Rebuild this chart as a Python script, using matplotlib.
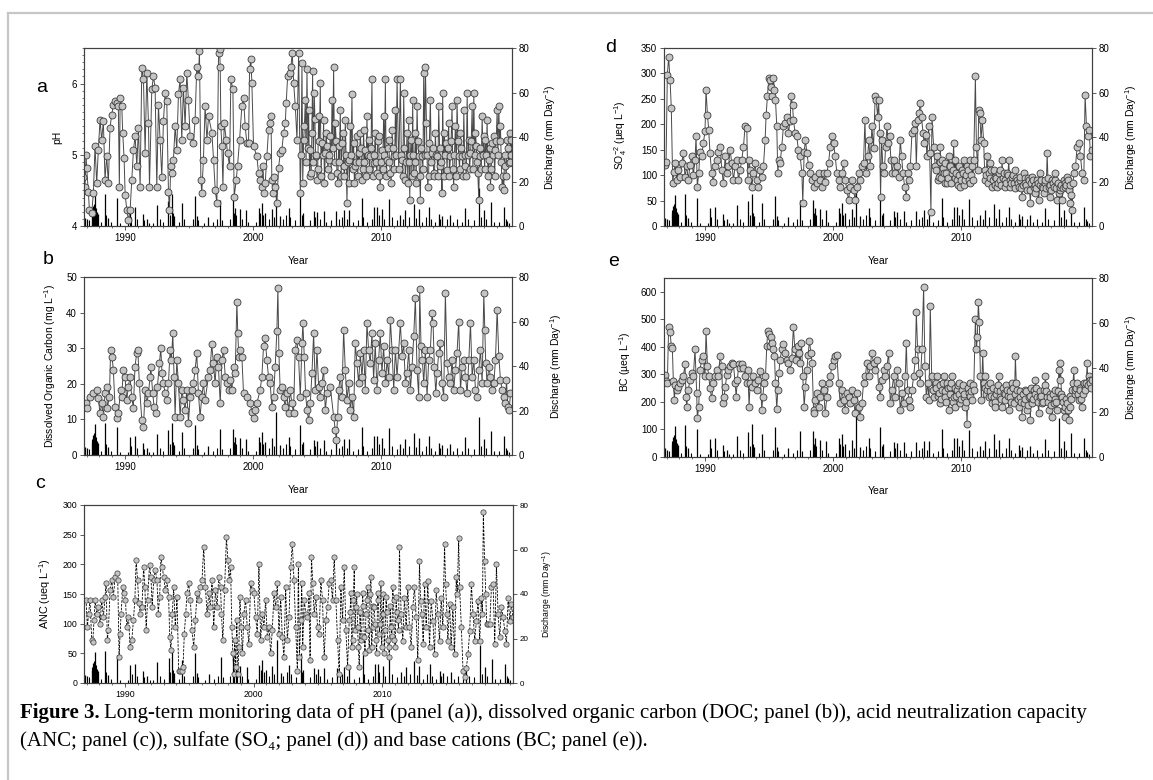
import matplotlib
matplotlib.use("Agg")
import numpy as np
import matplotlib.pyplot as plt
from matplotlib.lines import Line2D
from matplotlib.ticker import MultipleLocator

plt.rcParams["font.family"] = ["Liberation Sans", "DejaVu Sans"]
plt.rcParams["mathtext.fontset"] = "custom"
plt.rcParams["mathtext.rm"] = "Liberation Sans"
plt.rcParams["mathtext.default"] = "regular"

# ---- data (decimal year, value) ----
ph_t = [1986.75, 1986.88, 1986.96, 1987.01, 1987.14, 1987.22, 1987.40, 1987.53, 1987.66, 1987.79,
        1987.92, 1988.05, 1988.18, 1988.31, 1988.44, 1988.57, 1988.70, 1988.83, 1988.96, 1989.09,
        1989.22, 1989.35, 1989.48, 1989.56, 1989.62, 1989.75, 1989.82, 1989.93, 1990.01, 1990.14,
        1990.27, 1990.40, 1990.53, 1990.66, 1990.79, 1990.92, 1991.05, 1991.18, 1991.31, 1991.44,
        1991.57, 1991.70, 1991.83, 1991.91, 1992.09, 1992.22, 1992.35, 1992.48, 1992.61, 1992.74,
        1992.87, 1993.00, 1993.13, 1993.26, 1993.39, 1993.47, 1993.57, 1993.65, 1993.78, 1993.91,
        1994.04, 1994.17, 1994.30, 1994.43, 1994.56, 1994.69, 1994.82, 1994.95, 1995.08, 1995.34,
        1995.47, 1995.60, 1995.73, 1995.81, 1995.92, 1995.99, 1996.12, 1996.25, 1996.39, 1996.52,
        1996.78, 1996.91, 1997.04, 1997.17, 1997.30, 1997.38, 1997.43, 1997.48, 1997.56, 1997.64,
        1997.74, 1997.90, 1998.00, 1998.16, 1998.26, 1998.42, 1998.52, 1998.68, 1998.78, 1998.94,
        1999.12, 1999.25, 1999.38, 1999.51, 1999.64, 1999.72, 1999.82, 1999.90, 2000.03, 2000.29,
        2000.42, 2000.55, 2000.68, 2000.76, 2000.86, 2000.94, 2001.07, 2001.20, 2001.28, 2001.39,
        2001.46, 2001.54, 2001.65, 2001.72, 2001.85, 2001.98, 2002.11, 2002.24, 2002.38, 2002.51,
        2002.58, 2002.69, 2002.84, 2002.95, 2003.05, 2003.16, 2003.29, 2003.42, 2003.55, 2003.68,
        2003.81, 2003.94, 2004.07, 2004.20, 2004.33, 2004.46, 2004.53, 2004.64, 2004.77, 2004.87,
        2004.98, 2005.11, 2005.24, 2005.37, 2005.50, 2005.63, 2005.76, 2005.89, 2006.02, 2006.15,
        2006.28, 2006.41, 2006.54, 2006.67, 2006.80, 2006.93, 2007.06, 2007.19, 2007.32, 2007.45,
        2007.58, 2007.71, 2007.84, 2007.97, 2008.10, 2008.23, 2008.36, 2008.49, 2008.62, 2008.75,
        2008.88, 2009.01, 2009.14, 2009.27, 2009.40, 2009.53, 2009.66, 2009.79, 2009.92, 2010.05,
        2010.18, 2010.32, 2010.45, 2010.58, 2010.71, 2010.84, 2010.97, 2011.10, 2011.23, 2011.49,
        2011.62, 2011.75, 2011.88, 2012.01, 2012.14, 2012.22, 2012.32, 2012.45, 2012.53, 2012.66,
        2012.79, 2012.92, 2013.05, 2013.18, 2013.31, 2013.44, 2013.52, 2013.62, 2013.75, 2013.83,
        2013.96, 2014.09, 2014.22, 2014.35, 2014.48, 2014.61, 2014.74, 2014.79, 2014.92, 2015.06,
        2015.13, 2015.26, 2015.39, 2015.52, 2015.65, 2015.78, 2015.91, 2016.04, 2016.18, 2016.31,
        2016.44, 2016.57, 2016.70, 2016.83, 2016.96, 2017.09, 2017.22, 2017.35, 2017.42, 2017.53,
        2017.61, 2017.74, 2017.87, 2018.00, 2018.13, 2018.26, 2018.39, 2018.52, 2018.65, 2018.78,
        2018.91, 2019.04, 2019.17, 2019.30, 2019.43, 2019.56, 2019.69, 2019.82, 2019.95, 2020.08,
        2020.16]
ph_v = [4.69, 4.55, 5.00, 4.81, 4.48, 4.23, 4.18, 4.46, 5.12, 4.60,
        5.07, 5.49, 5.21, 5.47, 4.65, 4.98, 4.60, 5.38, 5.56, 5.70,
        5.75, 5.73, 5.68, 4.55, 5.80, 5.68, 5.31, 4.95, 4.44, 4.23,
        4.08, 4.23, 4.65, 5.07, 5.26, 4.84, 5.38, 4.55, 6.22, 6.06,
        5.02, 6.15, 5.45, 4.55, 5.92, 6.10, 5.94, 4.55, 5.70, 5.21,
        4.69, 5.47, 5.87, 5.75, 4.48, 4.23, 4.84, 4.74, 4.93, 5.40,
        5.07, 5.85, 6.06, 5.21, 5.94, 5.40, 6.15, 5.77, 5.26, 5.16,
        5.49, 6.24, 6.10, 6.46, 4.65, 4.46, 4.93, 5.68, 5.21, 5.54,
        5.31, 4.93, 4.51, 4.32, 6.43, 6.48, 6.24, 5.40, 5.12, 4.55,
        5.45, 5.21, 5.02, 4.84, 6.06, 5.92, 4.41, 4.65, 4.84, 5.21,
        5.68, 5.80, 5.40, 5.16, 5.16, 6.20, 6.34, 6.01, 5.12, 4.98,
        4.74, 4.65, 4.55, 4.84, 4.46, 4.60, 4.98, 5.35, 5.45, 5.54,
        4.65, 4.46, 4.69, 4.55, 4.32, 4.81, 5.02, 5.07, 5.31, 5.45,
        5.73, 6.10, 6.15, 6.24, 6.43, 6.01, 5.68, 5.21, 6.43, 4.46,
        6.29, 5.21, 5.77, 6.20, 5.63, 5.07, 4.74, 6.17, 5.87, 4.98,
        4.65, 5.54, 6.01, 5.16, 5.49, 5.02, 5.12, 4.93, 5.26, 5.77,
        6.24, 5.45, 4.74, 5.12, 5.63, 5.16, 4.84, 5.49, 4.32, 4.93,
        5.40, 5.85, 5.16, 4.84, 5.26, 5.02, 5.31, 4.65, 5.35, 5.07,
        5.54, 5.21, 4.98, 6.06, 4.88, 5.31, 4.74, 5.26, 4.55, 5.07,
        5.54, 6.06, 4.93, 5.21, 4.74, 5.35, 4.98, 5.63, 6.06, 6.06,
        4.93, 5.87, 4.65, 5.31, 5.49, 4.37, 5.21, 5.77, 4.74, 5.31,
        5.68, 4.98, 4.37, 4.98, 6.15, 6.24, 5.45, 4.55, 5.16, 5.77,
        5.02, 4.74, 5.31, 4.98, 5.68, 4.84, 4.46, 5.87, 5.31, 5.16,
        4.79, 5.45, 4.98, 5.68, 4.55, 5.40, 5.77, 4.98, 5.31, 4.98,
        5.63, 4.84, 5.87, 5.21, 5.02, 5.68, 5.87, 5.31, 5.12, 4.74,
        4.37, 4.98, 5.54, 5.26, 5.21, 5.49, 4.93, 4.55, 5.16, 5.26,
        5.07, 5.63, 5.68, 5.40, 4.55, 4.51, 4.84, 5.21, 4.88, 5.31,
        5.21]
# extra samples inside the dense 2004-2020 band
ph_t_dense = [2003.74, 2003.87, 2004.00, 2004.13, 2004.27, 2004.40, 2004.58, 2004.70, 2004.82, 2004.93,
              2005.04, 2005.17, 2005.30, 2005.44, 2005.56, 2005.70, 2005.83, 2005.95, 2006.09, 2006.21,
              2006.35, 2006.48, 2006.60, 2006.73, 2006.87, 2006.99, 2007.12, 2007.25, 2007.38, 2007.51,
              2007.64, 2007.77, 2007.90, 2008.03, 2008.16, 2008.29, 2008.42, 2008.55, 2008.68, 2008.81,
              2008.94, 2009.07, 2009.20, 2009.33, 2009.46, 2009.59, 2009.72, 2009.85, 2009.98, 2010.11,
              2010.25, 2010.38, 2010.51, 2010.64, 2010.77, 2010.90, 2011.03, 2011.16, 2011.36, 2011.56,
              2011.68, 2011.81, 2011.94, 2012.07, 2012.18, 2012.27, 2012.39, 2012.49, 2012.60, 2012.72,
              2012.85, 2012.99, 2013.11, 2013.25, 2013.38, 2013.57, 2013.69, 2013.90, 2014.02, 2014.15,
              2014.28, 2014.41, 2014.55, 2014.68, 2014.86, 2014.99, 2015.19, 2015.32, 2015.45, 2015.58,
              2015.71, 2015.85, 2015.98, 2016.11, 2016.24, 2016.37, 2016.50, 2016.63, 2016.76, 2016.89,
              2017.02, 2017.15, 2017.28, 2017.47, 2017.67, 2017.80, 2017.94, 2018.06, 2018.19, 2018.32,
              2018.45, 2018.58, 2018.71, 2018.84, 2018.97, 2019.10, 2019.23, 2019.36, 2019.49, 2019.62,
              2019.75, 2019.88, 2020.01, 2020.12]
ph_v_dense = [5.0, 4.6, 5.4, 4.9, 5.1, 4.7, 5.3, 4.9, 5.5, 5.0,
              4.8, 5.2, 4.7, 5.0, 4.6, 5.3, 4.8, 5.0, 4.7, 5.1,
              4.9, 5.2, 4.6, 4.9, 4.7, 5.3, 4.7, 5.0, 4.9, 4.6,
              5.0, 4.8, 4.6, 4.9, 4.7, 4.9, 5.1, 4.8, 4.9, 4.7,
              5.0, 4.8, 5.1, 4.7, 5.0, 4.9, 5.2, 4.7, 4.9, 4.8,
              5.0, 4.7, 5.1, 4.9, 4.6, 5.1, 4.8, 5.0, 4.8, 5.0,
              4.7, 5.1, 4.9, 4.6, 4.9, 5.0, 4.7, 5.0, 4.9, 4.6,
              5.2, 4.7, 5.1, 4.8, 5.0, 5.0, 4.7, 4.9, 5.1, 4.7,
              5.0, 4.7, 5.1, 4.9, 4.7, 5.0, 5.1, 4.7, 5.2, 4.8,
              5.0, 4.7, 5.2, 4.8, 5.1, 4.7, 5.0, 4.7, 5.0, 4.8,
              5.2, 4.8, 5.0, 4.9, 5.1, 4.8, 5.0, 4.8, 5.0, 4.7,
              5.1, 4.8, 5.0, 4.7, 5.2, 5.0, 5.2, 4.9, 4.7, 5.0,
              4.7, 5.1, 4.9, 5.0]

doc_t = [1986.96, 1987.06, 1987.27, 1987.53, 1987.79, 1987.92, 1988.05, 1988.18, 1988.31, 1988.44,
         1988.57, 1988.62, 1988.78, 1988.88, 1988.99, 1989.09, 1989.22, 1989.35, 1989.48, 1989.66,
         1989.74, 1989.87, 1990.00, 1990.13, 1990.26, 1990.39, 1990.52, 1990.65, 1990.78, 1990.91,
         1991.00, 1991.12, 1991.31, 1991.44, 1991.57, 1991.70, 1991.83, 1991.96, 1992.01, 1992.16,
         1992.27, 1992.43, 1992.53, 1992.69, 1992.79, 1992.89, 1993.00, 1993.13, 1993.26, 1993.39,
         1993.52, 1993.62, 1993.73, 1993.83, 1993.91, 1994.04, 1994.17, 1994.30, 1994.43, 1994.56,
         1994.69, 1994.82, 1994.95, 1995.08, 1995.21, 1995.34, 1995.47, 1995.60, 1995.73, 1995.86,
         1995.99, 1996.12, 1996.25, 1996.51, 1996.64, 1996.77, 1996.90, 1997.03, 1997.16, 1997.29,
         1997.43, 1997.56, 1997.69, 1997.82, 1997.95, 1998.08, 1998.21, 1998.34, 1998.47, 1998.60,
         1998.73, 1998.80, 1998.88, 1998.99, 1999.12, 1999.25, 1999.51, 1999.77, 1999.90, 2000.03,
         2000.16, 2000.29, 2000.55, 2000.68, 2000.81, 2000.94, 2001.07, 2001.20, 2001.33, 2001.46,
         2001.59, 2001.72, 2001.85, 2001.93, 2002.01, 2002.11, 2002.24, 2002.37, 2002.50, 2002.63,
         2002.76, 2002.89, 2003.02, 2003.15, 2003.28, 2003.41, 2003.54, 2003.68, 2003.81, 2003.88,
         2003.99, 2004.09, 2004.20, 2004.33, 2004.46, 2004.59, 2004.72, 2004.85, 2004.98, 2005.11,
         2005.24, 2005.37, 2005.50, 2005.63, 2005.76, 2006.02, 2006.28, 2006.41, 2006.49, 2006.59,
         2006.67, 2006.80, 2006.93, 2007.06, 2007.19, 2007.32, 2007.45, 2007.58, 2007.71, 2007.84,
         2007.97, 2008.10, 2008.23, 2008.36, 2008.49, 2008.62, 2008.75, 2008.88, 2009.01, 2009.14,
         2009.27, 2009.40, 2009.53, 2009.66, 2009.79, 2009.92, 2010.05, 2010.18, 2010.32, 2010.45,
         2010.58, 2010.71, 2010.84, 2010.97, 2011.10, 2011.23, 2011.49, 2011.62, 2011.75, 2011.88,
         2012.01, 2012.14, 2012.27, 2012.40, 2012.53, 2012.66, 2012.79, 2012.92, 2013.00, 2013.10,
         2013.21, 2013.31, 2013.44, 2013.57, 2013.70, 2013.83, 2013.96, 2014.04, 2014.14, 2014.25,
         2014.35, 2014.48, 2014.61, 2014.74, 2014.87, 2015.00, 2015.13, 2015.26, 2015.39, 2015.52,
         2015.65, 2015.78, 2015.91, 2016.04, 2016.18, 2016.31, 2016.44, 2016.57, 2016.70, 2016.83,
         2016.96, 2017.09, 2017.22, 2017.35, 2017.48, 2017.61, 2017.74, 2017.87, 2018.00, 2018.08,
         2018.15, 2018.26, 2018.39, 2018.52, 2018.65, 2018.78, 2018.91, 2019.04, 2019.17, 2019.30,
         2019.43, 2019.56, 2019.69, 2019.77, 2019.87, 2019.98, 2020.08]
doc_v = [14.5, 13.1, 16.4, 17.3, 18.3, 15.9, 11.7, 14.5, 10.8, 17.3,
         19.2, 13.1, 16.4, 29.5, 27.6, 23.9, 13.6, 10.3, 11.7, 18.3,
         16.4, 23.9, 22.0, 15.4, 19.2, 22.0, 16.4, 13.1, 24.8, 28.6,
         29.5, 20.1, 9.8, 7.9, 18.3, 14.5, 17.3, 22.0, 24.8, 17.3,
         13.6, 11.7, 19.2, 25.8, 30.0, 23.0, 20.1, 17.3, 15.4, 20.1,
         29.5, 26.7, 34.2, 22.0, 10.8, 26.7, 20.1, 10.8, 18.3, 15.4,
         12.6, 18.3, 8.9, 16.4, 18.3, 20.1, 23.9, 28.6, 17.3, 10.8,
         16.4, 20.1, 15.4, 22.0, 23.9, 31.1, 25.8, 20.1, 27.6, 24.8,
         14.5, 26.7, 29.5, 22.0, 20.1, 18.3, 21.1, 18.3, 24.8, 23.0,
         43.1, 34.2, 27.6, 29.5, 27.6, 17.3, 16.4, 14.5, 12.2, 10.3,
         12.6, 14.5, 18.3, 22.0, 30.5, 32.8, 26.7, 22.0, 20.1, 13.6,
         16.4, 24.8, 34.7, 46.9, 28.6, 18.3, 19.2, 16.4, 13.6, 17.3,
         11.7, 18.3, 14.5, 11.7, 29.5, 32.4, 27.6, 16.4, 31.4, 37.0,
         27.6, 17.3, 12.6, 9.8, 14.5, 23.0, 34.2, 18.3, 29.5, 19.2,
         16.4, 20.1, 23.9, 12.6, 17.3, 19.2, 10.8, 7.0, 4.2, 10.8,
         18.3, 22.0, 16.4, 35.2, 23.9, 15.4, 20.1, 12.6, 16.4, 10.8,
         31.4, 25.8, 20.1, 28.6, 22.0, 29.5, 18.3, 37.0, 29.5, 25.8,
         34.2, 21.1, 31.4, 18.3, 26.7, 34.2, 23.0, 30.5, 20.1, 26.7,
         22.0, 38.0, 29.5, 18.3, 29.5, 22.0, 37.0, 27.7, 31.4, 20.1,
         23.0, 29.5, 18.3, 24.8, 33.3, 44.1, 23.9, 16.4, 46.7, 30.5,
         26.7, 20.1, 29.5, 16.4, 26.7, 29.5, 39.9, 37.0, 24.8, 17.3,
         23.0, 28.6, 31.4, 20.1, 16.4, 45.5, 25.8, 22.0, 20.1, 26.7,
         18.3, 23.9, 28.6, 37.5, 18.3, 24.8, 26.7, 22.0, 17.3, 26.7,
         37.0, 22.0, 26.7, 18.3, 16.4, 23.9, 29.5, 20.1, 45.5, 35.2,
         25.8, 20.1, 24.8, 22.0, 18.3, 20.1, 26.7, 40.8, 27.7, 21.1,
         18.3, 16.4, 14.5, 21.1, 13.6, 12.6, 17.3]

anc_t = [1986.96, 1987.06, 1987.16, 1987.27, 1987.40, 1987.48, 1987.58, 1987.66, 1987.79, 1987.92,
         1988.05, 1988.18, 1988.31, 1988.44, 1988.52, 1988.62, 1988.70, 1988.83, 1988.96, 1989.09,
         1989.22, 1989.35, 1989.43, 1989.53, 1989.61, 1989.69, 1989.82, 1989.93, 1990.03, 1990.13,
         1990.26, 1990.39, 1990.52, 1990.65, 1990.76, 1990.86, 1990.97, 1991.07, 1991.18, 1991.31,
         1991.44, 1991.54, 1991.64, 1991.75, 1991.90, 1992.01, 1992.11, 1992.22, 1992.35, 1992.48,
         1992.58, 1992.69, 1992.79, 1992.89, 1993.00, 1993.13, 1993.26, 1993.39, 1993.47, 1993.57,
         1993.68, 1993.78, 1993.91, 1994.04, 1994.17, 1994.30, 1994.43, 1994.51, 1994.61, 1994.72,
         1994.82, 1994.95, 1995.08, 1995.21, 1995.34, 1995.47, 1995.60, 1995.73, 1995.86, 1995.99,
         1996.12, 1996.25, 1996.38, 1996.51, 1996.64, 1996.77, 1996.90, 1997.03, 1997.16, 1997.29,
         1997.43, 1997.50, 1997.61, 1997.74, 1997.89, 1998.00, 1998.10, 1998.21, 1998.31, 1998.39,
         1998.47, 1998.54, 1998.62, 1998.70, 1998.78, 1998.86, 1998.94, 1999.04, 1999.14, 1999.25,
         1999.38, 1999.51, 1999.64, 1999.77, 1999.90, 2000.03, 2000.16, 2000.29, 2000.42, 2000.55,
         2000.68, 2000.81, 2000.94, 2001.07, 2001.20, 2001.33, 2001.46, 2001.59, 2001.72, 2001.85,
         2001.98, 2002.11, 2002.24, 2002.37, 2002.50, 2002.63, 2002.76, 2002.89, 2003.02, 2003.15,
         2003.28, 2003.41, 2003.49, 2003.57, 2003.68, 2003.75, 2003.83, 2003.94, 2004.07, 2004.20,
         2004.33, 2004.40, 2004.51, 2004.61, 2004.72, 2004.85, 2004.98, 2005.11, 2005.24, 2005.37,
         2005.50, 2005.63, 2005.76, 2005.89, 2006.02, 2006.15, 2006.28, 2006.41, 2006.54, 2006.67,
         2006.80, 2006.93, 2007.06, 2007.19, 2007.32, 2007.45, 2007.58, 2007.71, 2007.84, 2007.97,
         2008.10, 2008.23, 2008.36, 2008.49, 2008.62, 2008.75, 2008.88, 2009.01, 2009.14, 2009.27,
         2009.40, 2009.53, 2009.66, 2009.79, 2009.92, 2010.05, 2010.18, 2010.32, 2010.45, 2010.58,
         2010.71, 2010.84, 2010.97, 2011.10, 2011.23, 2011.36, 2011.49, 2011.62, 2011.75, 2011.88,
         2012.01, 2012.14, 2012.27, 2012.40, 2012.53, 2012.66, 2012.79, 2012.92, 2013.00, 2013.10,
         2013.21, 2013.31, 2013.44, 2013.57, 2013.70, 2013.83, 2013.96, 2014.09, 2014.22, 2014.35,
         2014.48, 2014.61, 2014.74, 2014.87, 2014.95, 2015.06, 2015.13, 2015.26, 2015.39, 2015.52,
         2015.65, 2015.78, 2015.86, 2015.97, 2016.04, 2016.18, 2016.31, 2016.44, 2016.57, 2016.70,
         2016.83, 2016.96, 2017.09, 2017.22, 2017.35, 2017.48, 2017.61, 2017.74, 2017.82, 2017.89,
         2017.99, 2018.08, 2018.15, 2018.26, 2018.39, 2018.52, 2018.65, 2018.78, 2018.91, 2019.04,
         2019.17, 2019.30, 2019.43, 2019.56, 2019.69, 2019.82, 2019.95, 2020.08, 2020.19]
anc_v = [140, 94, 117, 140, 72, 69, 106, 140, 117, 128,
         100, 140, 111, 145, 168, 72, 89, 156, 173, 145,
         179, 185, 173, 44, 83, 117, 162, 151, 140, 94,
         111, 61, 72, 106, 140, 207, 173, 134, 117, 128,
         196, 162, 89, 140, 199, 179, 128, 173, 190, 173,
         117, 145, 213, 196, 179, 156, 173, 145, 78, 55,
         117, 162, 94, 145, 21, 21, 21, 27, 83, 117,
         151, 168, 140, 89, 61, 106, 151, 140, 162, 173,
         230, 162, 117, 151, 128, 173, 94, 156, 128, 179,
         162, 117, 72, 156, 246, 207, 173, 196, 94, 50,
         16, 72, 27, 106, 16, 61, 145, 94, 50, 117,
         140, 94, 66, 168, 156, 151, 111, 83, 201, 72,
         117, 94, 140, 78, 94, 50, 89, 151, 128, 168,
         83, 145, 78, 44, 162, 72, 111, 196, 235, 173,
         94, 21, 201, 44, 106, 168, 61, 140, 117, 111,
         151, 38, 213, 168, 117, 145, 94, 83, 173, 140,
         44, 106, 128, 168, 173, 140, 213, 140, 72, 16,
         162, 106, 196, 89, 27, 106, 151, 72, 196, 128,
         94, 27, 72, 151, 78, 117, 162, 55, 179, 94,
         128, 72, 151, 83, 168, 117, 50, 145, 72, 44,
         94, 162, 72, 145, 106, 230, 116, 71, 144, 94,
         161, 94, 60, 128, 161, 111, 38, 206, 139, 116,
         66, 167, 94, 172, 60, 139, 105, 49, 156, 116,
         71, 144, 94, 234, 167, 116, 71, 133, 60, 128,
         49, 178, 150, 245, 161, 94, 21, 10, 26, 49,
         88, 167, 116, 71, 105, 139, 71, 144, 116, 288,
         206, 150, 99, 99, 99, 161, 167, 66, 200, 116,
         77, 128, 111, 88, 66, 144, 105, 133, 111]
anc_t_dense = [2007.51, 2007.64, 2007.77, 2007.90, 2008.03, 2008.16, 2008.29, 2008.42, 2008.55, 2008.68,
               2008.81, 2008.94, 2009.07, 2009.20, 2009.33, 2009.46, 2009.59, 2009.72, 2009.85, 2009.98,
               2010.11, 2010.25, 2010.38, 2010.51, 2010.64, 2010.77, 2010.90, 2011.03, 2011.16, 2011.29]
anc_v_dense = [120, 60, 140, 90, 150, 60, 120, 80, 130, 50,
               140, 90, 150, 60, 130, 100, 50, 140, 100, 60,
               150, 90, 120, 60, 130, 80, 140, 60, 120, 90]

so4_t = [1986.88, 1986.96, 1987.06, 1987.16, 1987.27, 1987.37, 1987.48, 1987.58, 1987.69, 1987.79,
         1987.92, 1988.05, 1988.18, 1988.31, 1988.44, 1988.57, 1988.70, 1988.83, 1988.96, 1989.09,
         1989.22, 1989.30, 1989.40, 1989.51, 1989.61, 1989.74, 1989.87, 1990.00, 1990.08, 1990.19,
         1990.29, 1990.39, 1990.52, 1990.65, 1990.78, 1990.91, 1991.04, 1991.18, 1991.31, 1991.44,
         1991.57, 1991.70, 1991.83, 1991.96, 1992.09, 1992.22, 1992.35, 1992.48, 1992.61, 1992.74,
         1992.87, 1993.00, 1993.13, 1993.26, 1993.34, 1993.44, 1993.52, 1993.65, 1993.78, 1993.91,
         1994.04, 1994.17, 1994.30, 1994.43, 1994.56, 1994.69, 1994.77, 1994.87, 1994.98, 1995.08,
         1995.16, 1995.24, 1995.34, 1995.42, 1995.50, 1995.60, 1995.68, 1995.76, 1995.86, 1995.99,
         1996.12, 1996.25, 1996.38, 1996.51, 1996.64, 1996.72, 1996.83, 1996.90, 1997.03, 1997.16,
         1997.29, 1997.43, 1997.56, 1997.63, 1997.74, 1997.84, 1997.95, 1998.08, 1998.21, 1998.34,
         1998.47, 1998.60, 1998.73, 1998.86, 1998.99, 1999.12, 1999.25, 1999.38, 1999.51, 1999.64,
         1999.77, 1999.90, 2000.03, 2000.16, 2000.29, 2000.42, 2000.55, 2000.68, 2000.81, 2000.94,
         2001.07, 2001.20, 2001.33, 2001.46, 2001.59, 2001.72, 2001.85, 2001.98, 2002.11, 2002.24,
         2002.37, 2002.48, 2002.58, 2002.69, 2002.79, 2002.89, 2003.02, 2003.15, 2003.28, 2003.36,
         2003.47, 2003.55, 2003.62, 2003.70, 2003.78, 2003.88, 2003.99, 2004.09, 2004.20, 2004.30,
         2004.40, 2004.51, 2004.61, 2004.72, 2004.85, 2004.98, 2005.11, 2005.24, 2005.34, 2005.45,
         2005.58, 2005.71, 2005.81, 2005.91, 2006.02, 2006.15, 2006.28, 2006.41, 2006.49, 2006.59,
         2006.70, 2006.80, 2006.90, 2007.01, 2007.11, 2007.22, 2007.32, 2007.45, 2007.53, 2007.63,
         2007.71, 2007.84, 2007.97, 2008.10, 2008.23, 2008.36, 2008.49, 2008.62, 2008.75, 2008.88,
         2009.01, 2009.14, 2009.27, 2009.40, 2009.53, 2009.66, 2009.79, 2009.92, 2010.05, 2010.18,
         2010.32, 2010.45, 2010.58, 2010.71, 2010.84, 2010.97, 2011.10, 2011.18, 2011.28, 2011.36,
         2011.44, 2011.54, 2011.64, 2011.75, 2011.88, 2012.01, 2012.14, 2012.27, 2012.40, 2012.53,
         2012.66, 2012.79, 2012.92, 2013.05, 2013.18, 2013.31, 2013.44, 2013.57, 2013.70, 2013.83,
         2013.96, 2014.09, 2014.22, 2014.35, 2014.48, 2014.61, 2014.74, 2014.87, 2015.00, 2015.13,
         2015.26, 2015.39, 2015.52, 2015.65, 2015.78, 2015.91, 2016.04, 2016.18, 2016.31, 2016.44,
         2016.57, 2016.70, 2016.83, 2016.96, 2017.09, 2017.22, 2017.35, 2017.48, 2017.61, 2017.74,
         2017.87, 2018.00, 2018.13, 2018.26, 2018.39, 2018.52, 2018.65, 2018.78, 2018.91, 2019.04,
         2019.17, 2019.30, 2019.43, 2019.56, 2019.66, 2019.77, 2019.87, 2019.98, 2020.08, 2020.19]
so4_v = [120, 125, 297, 332, 288, 232, 85, 107, 123, 91,
         110, 97, 123, 143, 97, 117, 91, 120, 137, 100,
         130, 176, 77, 104, 146, 137, 163, 186, 268, 219,
         189, 143, 104, 87, 117, 130, 146, 156, 110, 84,
         137, 104, 117, 150, 123, 91, 117, 130, 91, 110,
         130, 156, 196, 192, 91, 130, 110, 77, 104, 123,
         91, 77, 110, 97, 117, 169, 219, 255, 291, 288,
         274, 255, 291, 268, 248, 196, 104, 130, 123, 156,
         196, 202, 215, 183, 206, 255, 238, 209, 183, 176,
         150, 137, 104, 45, 146, 169, 143, 120, 104, 91,
         77, 97, 84, 104, 91, 77, 104, 87, 104, 123,
         156, 176, 163, 137, 104, 91, 77, 104, 123, 91,
         71, 51, 77, 91, 71, 51, 77, 104, 91, 117,
         123, 209, 104, 137, 169, 117, 196, 153, 255, 248,
         215, 248, 183, 58, 169, 117, 104, 156, 196, 163,
         176, 130, 104, 130, 104, 117, 97, 169, 137, 104,
         77, 58, 104, 91, 117, 183, 189, 202, 117, 209,
         222, 242, 215, 183, 163, 179, 137, 196, 143, 28,
         215, 156, 117, 137, 97, 156, 130, 104, 123, 84,
         137, 117, 104, 163, 130, 91, 117, 77, 110, 130,
         91, 117, 91, 130, 117, 130, 294, 156, 110, 228,
         222, 169, 209, 163, 91, 137, 104, 123, 77, 110,
         97, 77, 104, 91, 130, 104, 77, 104, 130, 77,
         97, 84, 110, 91, 77, 97, 58, 104, 84, 71,
         91, 45, 97, 77, 64, 91, 51, 104, 77, 64,
         91, 143, 77, 58, 91, 77, 104, 51, 64, 77,
         51, 91, 77, 97, 71, 45, 32, 104, 117, 156,
         163, 137, 104, 91, 258, 196, 176, 189, 137, 150]
so4_t_dense = [2008.04, 2008.17, 2008.30, 2008.43, 2008.56, 2008.69, 2008.82, 2008.95, 2009.08, 2009.21,
               2009.34, 2009.47, 2009.60, 2009.73, 2009.86, 2009.99, 2010.12, 2010.25, 2010.39, 2010.52,
               2010.65, 2010.78, 2010.91, 2011.82, 2011.95, 2012.08, 2012.21, 2012.34, 2012.47, 2012.60,
               2012.73, 2012.86, 2012.99, 2013.12, 2013.25, 2013.38, 2013.51, 2013.64, 2013.77, 2013.90,
               2014.03, 2014.16, 2014.29, 2014.42, 2014.55, 2014.68, 2014.81, 2014.94, 2015.07, 2015.20,
               2015.33, 2015.46, 2015.59, 2015.72, 2015.85, 2015.98, 2016.11, 2016.24, 2016.37, 2016.50,
               2016.63, 2016.76, 2016.89, 2017.02, 2017.15, 2017.28, 2017.41, 2017.55, 2017.68, 2017.81,
               2017.94, 2018.07, 2018.20, 2018.33, 2018.46, 2018.59, 2018.72]
so4_v_dense = [110, 90, 125, 95, 115, 85, 105, 95, 120, 85,
               110, 95, 105, 80, 100, 90, 105, 80, 100, 110,
               85, 100, 90, 110, 100, 85, 95, 110, 90, 80,
               95, 85, 110, 80, 95, 90, 85, 100, 90, 85,
               100, 75, 95, 85, 90, 75, 80, 95, 80, 95,
               70, 85, 90, 80, 75, 85, 80, 90, 75, 85,
               75, 95, 80, 70, 85, 90, 75, 85, 70, 80,
               75, 85, 80, 90, 80, 60, 85]

bc_t = [1986.88, 1986.96, 1987.06, 1987.16, 1987.27, 1987.37, 1987.45, 1987.53, 1987.61, 1987.69,
        1987.79, 1987.92, 1988.05, 1988.18, 1988.31, 1988.44, 1988.52, 1988.57, 1988.70, 1988.83,
        1988.96, 1989.09, 1989.22, 1989.35, 1989.40, 1989.51, 1989.61, 1989.74, 1989.87, 1990.00,
        1990.08, 1990.19, 1990.29, 1990.39, 1990.52, 1990.65, 1990.78, 1990.91, 1991.04, 1991.18,
        1991.31, 1991.38, 1991.49, 1991.59, 1991.70, 1991.83, 1991.96, 1992.09, 1992.22, 1992.35,
        1992.43, 1992.53, 1992.63, 1992.74, 1992.87, 1993.00, 1993.13, 1993.26, 1993.34, 1993.44,
        1993.52, 1993.65, 1993.78, 1993.91, 1994.04, 1994.17, 1994.30, 1994.43, 1994.51, 1994.61,
        1994.72, 1994.82, 1994.90, 1994.98, 1995.08, 1995.16, 1995.24, 1995.34, 1995.42, 1995.50,
        1995.60, 1995.68, 1995.76, 1995.86, 1995.99, 1996.12, 1996.25, 1996.38, 1996.51, 1996.64,
        1996.77, 1996.90, 1997.01, 1997.11, 1997.22, 1997.32, 1997.43, 1997.53, 1997.63, 1997.74,
        1997.84, 1997.95, 1998.05, 1998.15, 1998.26, 1998.36, 1998.47, 1998.54, 1998.62, 1998.73,
        1998.86, 1998.99, 1999.12, 1999.25, 1999.38, 1999.51, 1999.64, 1999.77, 1999.90, 2000.03,
        2000.16, 2000.29, 2000.42, 2000.55, 2000.68, 2000.81, 2000.94, 2001.07, 2001.20, 2001.33,
        2001.46, 2001.59, 2001.72, 2001.85, 2001.98, 2002.11, 2002.24, 2002.37, 2002.51, 2002.63,
        2002.76, 2002.89, 2003.02, 2003.15, 2003.28, 2003.41, 2003.55, 2003.68, 2003.81, 2003.94,
        2004.07, 2004.20, 2004.33, 2004.46, 2004.59, 2004.72, 2004.85, 2004.98, 2005.11, 2005.24,
        2005.37, 2005.50, 2005.63, 2005.71, 2005.81, 2005.91, 2006.02, 2006.15, 2006.28, 2006.41,
        2006.49, 2006.59, 2006.70, 2006.80, 2006.93, 2007.06, 2007.16, 2007.27, 2007.37, 2007.48,
        2007.58, 2007.69, 2007.79, 2007.89, 2008.00, 2008.10, 2008.23, 2008.36, 2008.49, 2008.62,
        2008.75, 2008.88, 2009.01, 2009.14, 2009.27, 2009.40, 2009.53, 2009.66, 2009.79, 2009.92,
        2010.05, 2010.18, 2010.32, 2010.45, 2010.58, 2010.71, 2010.84, 2010.97, 2011.10, 2011.18,
        2011.25, 2011.33, 2011.41, 2011.49, 2011.57, 2011.67, 2011.75, 2011.88, 2012.01, 2012.14,
        2012.27, 2012.40, 2012.53, 2012.66, 2012.79, 2012.92, 2013.05, 2013.18, 2013.31, 2013.44,
        2013.57, 2013.70, 2013.83, 2013.96, 2014.09, 2014.22, 2014.35, 2014.48, 2014.61, 2014.74,
        2014.87, 2015.00, 2015.13, 2015.26, 2015.39, 2015.52, 2015.65, 2015.78, 2015.91, 2016.04,
        2016.18, 2016.31, 2016.44, 2016.57, 2016.70, 2016.83, 2016.96, 2017.09, 2017.22, 2017.35,
        2017.48, 2017.61, 2017.74, 2017.87, 2018.00, 2018.13, 2018.26, 2018.39, 2018.52, 2018.65,
        2018.78, 2018.91, 2019.04, 2019.17, 2019.30, 2019.43, 2019.56, 2019.69, 2019.82, 2019.95,
        2020.08, 2020.19]
bc_v = [299, 275, 268, 471, 455, 403, 396, 275, 207, 262,
        244, 256, 268, 281, 293, 336, 219, 183, 244, 281,
        305, 293, 391, 232, 140, 183, 317, 354, 366, 293,
        458, 330, 293, 250, 213, 268, 293, 317, 293, 366,
        330, 195, 219, 256, 299, 317, 330, 342, 336, 268,
        219, 281, 336, 324, 336, 324, 293, 268, 317, 183,
        268, 256, 293, 268, 244, 281, 311, 170, 219, 268,
        293, 403, 458, 446, 403, 434, 415, 391, 366, 268,
        176, 244, 305, 354, 391, 409, 379, 354, 342, 317,
        360, 471, 391, 354, 403, 379, 342, 415, 293, 183,
        256, 317, 372, 422, 379, 342, 170, 158, 207, 232,
        183, 219, 268, 244, 158, 219, 268, 293, 330, 354,
        366, 372, 268, 195, 244, 207, 170, 232, 219, 195,
        244, 207, 158, 232, 183, 146, 195, 268, 293, 342,
        293, 330, 379, 342, 317, 354, 256, 219, 281, 317,
        293, 330, 379, 195, 244, 293, 219, 317, 268, 170,
        232, 195, 293, 415, 244, 207, 183, 244, 293, 354,
        526, 391, 305, 268, 391, 618, 330, 219, 268, 207,
        550, 293, 244, 219, 268, 293, 232, 195, 244, 293,
        219, 268, 170, 256, 293, 219, 183, 244, 268, 195,
        244, 219, 183, 121, 232, 268, 207, 244, 501, 391,
        434, 563, 489, 293, 207, 379, 268, 293, 244, 219,
        268, 195, 219, 183, 244, 293, 219, 183, 232, 207,
        244, 170, 219, 268, 195, 366, 244, 183, 219, 146,
        195, 244, 170, 219, 134, 195, 244, 281, 219, 158,
        219, 195, 244, 293, 219, 170, 219, 146, 195, 244,
        170, 317, 342, 219, 170, 146, 195, 134, 183, 244,
        317, 244, 268, 207, 244, 183, 268, 244, 342, 293,
        268, 281]
bc_t_dense = [2008.05, 2008.17, 2008.30, 2008.43, 2008.56, 2008.69, 2008.82, 2008.95, 2009.08, 2009.21,
              2009.34, 2009.47, 2009.60, 2009.73, 2009.86, 2009.99, 2010.12, 2010.25, 2010.39, 2010.52,
              2010.65, 2010.78, 2010.91, 2011.82, 2011.95, 2012.08, 2012.21, 2012.34, 2012.47, 2012.60,
              2012.73, 2012.86, 2012.99, 2013.12, 2013.25, 2013.38, 2013.51, 2013.64, 2013.77, 2013.90,
              2014.03, 2014.16, 2014.29, 2014.42, 2014.55, 2014.68, 2014.81, 2014.94, 2015.07, 2015.20,
              2015.33, 2015.46, 2015.59, 2015.72, 2015.85, 2015.98, 2016.11, 2016.24, 2016.37, 2016.50,
              2016.63, 2016.76, 2016.89, 2017.02, 2017.15, 2017.28, 2017.41, 2017.55, 2017.68, 2017.81,
              2017.94, 2018.07, 2018.20, 2018.33, 2018.46, 2018.59, 2018.72, 2018.85, 2018.98, 2019.11,
              2019.24, 2019.37, 2019.50, 2019.63, 2019.76, 2019.89, 2020.02, 2020.14]
bc_v_dense = [250, 220, 260, 210, 270, 240, 200, 250, 230, 270,
              200, 250, 220, 260, 230, 210, 260, 230, 200, 250,
              220, 240, 260, 250, 230, 260, 240, 220, 250, 200,
              230, 260, 240, 210, 250, 230, 260, 220, 240, 200,
              250, 230, 270, 210, 240, 200, 230, 210, 240, 190,
              220, 250, 210, 230, 250, 200, 240, 220, 200, 260,
              240, 200, 230, 190, 230, 210, 200, 240, 280, 230,
              200, 180, 210, 170, 220, 210, 270, 230, 250, 230,
              250, 210, 230, 250, 270, 260, 280, 250]

# discharge (mm/day): main storm peaks and smaller events
q_t = [1986.88, 1987.01, 1987.40, 1987.53, 1987.66, 1987.79, 1987.92, 1988.44, 1988.70, 1989.40,
       1990.39, 1990.78, 1991.38, 1991.70, 1992.48, 1993.39, 1993.65, 1993.83, 1994.43, 1995.47,
       1995.60, 1996.51, 1997.43, 1998.41, 1998.60, 1998.94, 1999.46, 2000.42, 2000.68, 2000.94,
       2001.46, 2001.80, 2002.11, 2002.76, 2003.68, 2003.88, 2004.72, 2004.98, 2005.50, 2006.49,
       2007.06, 2007.45, 2008.49, 2009.46, 2009.66, 2010.05, 2010.58, 2011.49, 2011.88, 2012.53,
       2012.92, 2013.70, 2014.48, 2014.74, 2015.39, 2016.57, 2017.61, 2018.00, 2018.57, 2019.56,
       2019.82]
q_v = [3.8, 3.0, 6.0, 9.0, 14.0, 6.3, 5.3, 14.3, 3.8, 12.5,
       8.0, 8.6, 5.3, 3.0, 9.3, 11.1, 14.6, 4.5, 10.5, 13.5,
       4.5, 4.2, 11.6, 11.7, 8.3, 7.5, 7.2, 8.3, 10.5, 6.0,
       7.5, 19.5, 4.5, 8.3, 13.5, 6.0, 6.8, 6.3, 6.8, 6.8,
       7.2, 7.2, 12.5, 8.7, 8.7, 7.5, 12.0, 4.8, 7.2, 10.1,
       7.8, 8.6, 5.3, 4.5, 4.8, 8.0, 17.3, 7.1, 10.8, 8.7,
       2.3]
q_small_t = [1987.20, 1987.45, 1987.60, 1987.72, 1987.85, 1988.10, 1988.55, 1988.90, 1989.60, 1990.20,
             1990.50, 1990.90, 1991.50, 1991.90, 1992.20, 1992.70, 1993.00, 1993.50, 1993.75, 1994.20,
             1994.60, 1995.30, 1995.70, 1996.20, 1996.90, 1997.20, 1997.60, 1998.20, 1998.50, 1998.70,
             1999.10, 1999.60, 2000.20, 2000.55, 2000.80, 2001.20, 2001.60, 2002.30, 2002.60, 2002.90,
             2003.30, 2003.80, 2004.40, 2004.85, 2005.20, 2005.70, 2006.10, 2006.70, 2006.90, 2007.30,
             2007.80, 2008.20, 2008.60, 2008.90, 2009.30, 2009.80, 2010.20, 2010.80, 2011.20, 2011.70,
             2012.20, 2012.70, 2013.20, 2013.50, 2013.90, 2014.20, 2014.60, 2015.10, 2015.60, 2015.90,
             2016.30, 2016.80, 2017.20, 2017.80, 2018.20, 2018.80, 2019.20, 2019.70, 2020.00]
q_small_v = [2.5, 7.0, 10.0, 8.0, 4.0, 2.0, 5.0, 2.0, 1.5, 1.5,
             4.0, 3.0, 2.5, 1.5, 1.5, 3.0, 2.0, 5.0, 6.0, 2.0,
             3.0, 3.0, 2.5, 1.5, 2.0, 3.0, 2.5, 3.0, 6.0, 5.0,
             3.0, 2.0, 2.0, 6.0, 5.0, 3.0, 4.0, 3.0, 5.0, 4.0,
             2.5, 5.0, 2.5, 4.0, 3.0, 2.0, 2.5, 3.0, 4.0, 3.0,
             2.0, 2.5, 4.0, 2.0, 3.0, 5.0, 3.0, 4.0, 2.5, 3.0,
             4.0, 3.5, 2.0, 4.0, 3.0, 2.0, 3.0, 3.0, 2.0, 3.0,
             2.0, 3.0, 2.5, 4.0, 3.0, 2.0, 2.0, 3.0, 1.5]

YEARS = (1986.8, 2020.2)

W, H = 1153, 780
fig = plt.figure(figsize=(W / 100, H / 100), dpi=100, facecolor="white")


def merged(t, v, t2=(), v2=()):
    # join the main and the dense-band samples in time order
    t_all = np.array(list(t) + list(t2))
    v_all = np.array(list(v) + list(v2))
    order = np.argsort(t_all)
    return t_all[order], v_all[order]


def rect(left, top, right, bottom):
    return [left / W, 1 - bottom / H, (right - left) / W, (bottom - top) / H]


def panel(box, t, v, ylim, ystep, yminor=None, small=False):
    ax = fig.add_axes(box)
    ax2 = ax.twinx()
    ax2.vlines(q_t, 0, q_v, color="black", lw=0.9)
    ax2.vlines(q_small_t, 0, q_small_v, color="black", lw=0.8)
    ax2.set_ylim(0, 80)
    ax2.yaxis.set_major_locator(MultipleLocator(20))

    ax.set_zorder(ax2.get_zorder() + 1)
    ax.patch.set_visible(False)
    if small:
        ax.plot(t, v, color="black", lw=0.6, ls=(0, (3, 1.5)), marker="o", ms=3.8,
                mfc="#c4c4c4", mec="#3a3a3a", mew=0.5)
    else:
        ax.plot(t, v, color="#4a4a4a", lw=0.7, marker="o", ms=5.0,
                mfc="#c4c4c4", mec="#3a3a3a", mew=0.6)
    ax.set_xlim(*YEARS)
    ax.set_ylim(*ylim)
    ax.yaxis.set_major_locator(MultipleLocator(ystep))
    if yminor:
        ax.yaxis.set_minor_locator(MultipleLocator(yminor))
    ax.set_xticks([1990, 2000, 2010])
    ax.xaxis.set_minor_locator(MultipleLocator(1))

    fs = 6.3 if small else 7
    for a in (ax, ax2):
        for sp in a.spines.values():
            sp.set_color("#404040")
            sp.set_linewidth(0.8)
        a.tick_params(which="major", direction="out", length=3, width=0.6,
                      colors="#404040", labelcolor="black", labelsize=fs, pad=2)
        a.tick_params(which="minor", direction="out", length=1.6, width=0.5,
                      colors="#404040")
    if small:
        ax2.tick_params(labelsize=5.8)
    return ax, ax2


def ylab(x, y, s, size=7.5):
    fig.text(x / W, 1 - y / H, s, rotation=90, ha="center", va="center", fontsize=size)


def letter(x, y, s):
    fig.text(x / W, 1 - y / H, s, ha="center", va="center", fontsize=14)


def xlab(x, y):
    fig.text(x / W, 1 - y / H, "Year", ha="center", va="center", fontsize=7.5)


Q_LABEL = "Discharge (mm Day$^{-1}$)"

# a - pH
panel(rect(84, 48, 512, 226), *merged(ph_t, ph_v, ph_t_dense, ph_v_dense), (4, 6.5), 1, 0.1)
letter(42, 87, "a")
ylab(57, 137, "pH")
ylab(550, 137, Q_LABEL)
xlab(298, 261)

# b - DOC
panel(rect(84, 277, 512, 455), doc_t, doc_v, (0, 50), 10)
letter(48, 259, "b")
ylab(50, 366, "Dissolved Organic Carbon (mg L$^{-1}$)")
ylab(556, 366, Q_LABEL)
xlab(298, 490)

# c - ANC
panel(rect(84, 505, 513, 683), *merged(anc_t, anc_v, anc_t_dense, anc_v_dense), (0, 300), 50,
      small=True)
letter(40, 483, "c")
ylab(45, 594, "ANC (ueq L$^{-1}$)", size=7.8)
ylab(547, 594, Q_LABEL, size=6.2)

# d - SO4
panel(rect(664, 48, 1092, 226), *merged(so4_t, so4_v, so4_t_dense, so4_v_dense), (0, 350), 50)
letter(611, 48, "d")
ylab(621, 135, "SO$_4^{-2}$ (µeq L$^{-1}$)")
ylab(1131, 137, Q_LABEL)
xlab(878, 261)

# e - BC
panel(rect(664, 278, 1092, 457), *merged(bc_t, bc_v, bc_t_dense, bc_v_dense), (0, 650), 100)
letter(614, 262, "e")
ylab(625, 362, "BC (µeq L$^{-1}$)")
ylab(1131, 367, Q_LABEL)
xlab(878, 491)

# frame lines (top and left)
fig.add_artist(Line2D([8 / W, 1], [1 - 13 / H, 1 - 13 / H], transform=fig.transFigure,
                      color="#c6c6c6", lw=1.6))
fig.add_artist(Line2D([8 / W, 8 / W], [0, 1 - 13 / H], transform=fig.transFigure,
                      color="#c6c6c6", lw=1.6))

# caption
serif = ["Liberation Serif", "DejaVu Serif"]
cap_fs = 15
t1 = fig.text(20 / W, 1 - 713 / H, "Figure 3.", fontweight="bold", family=serif,
              fontsize=cap_fs, ha="left", va="center")
fig.canvas.draw()
bb = t1.get_window_extent()
fig.text((bb.x1 + 4) / W, 1 - 713 / H,
         "Long-term monitoring data of pH (panel (a)), dissolved organic carbon (DOC; panel (b)), "
         "acid neutralization capacity",
         family=serif, fontsize=cap_fs, ha="left", va="center")
fig.text(20 / W, 1 - 741 / H,
         "(ANC; panel (c)), sulfate (SO\u2084; panel (d)) and base cations (BC; panel (e)).",
         family=serif, fontsize=cap_fs, ha="left", va="center")

fig.savefig("out.png", dpi=100, facecolor="white")
